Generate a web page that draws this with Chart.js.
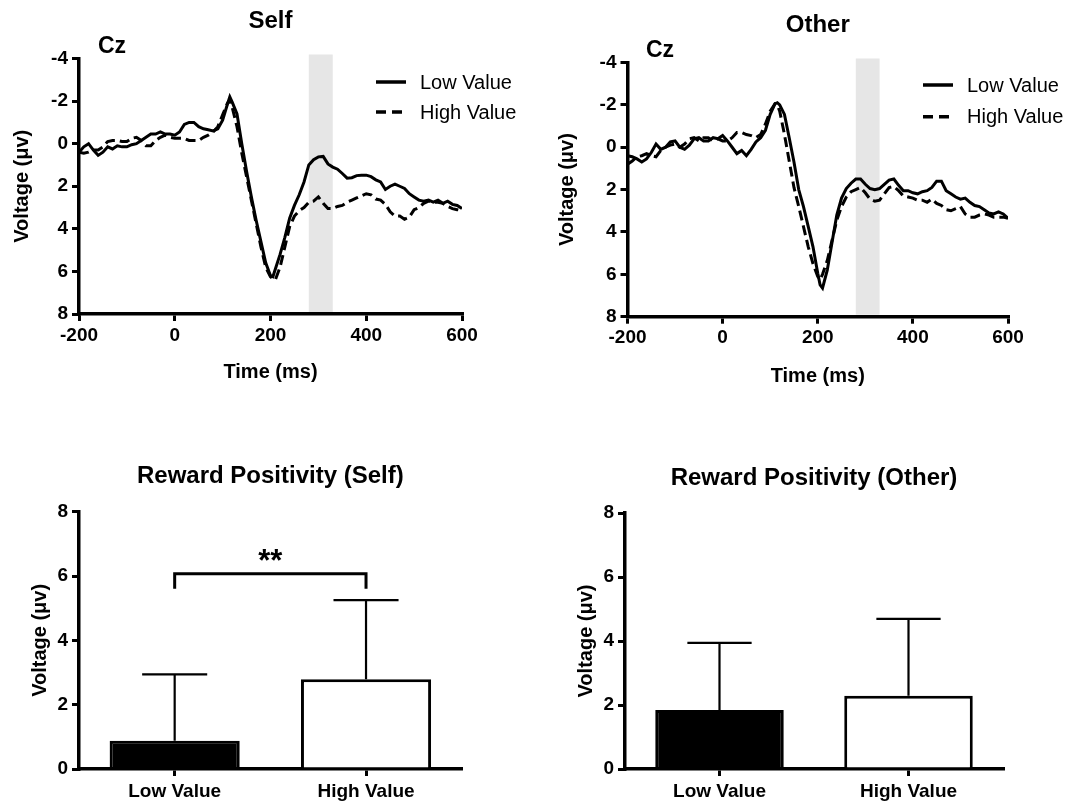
<!DOCTYPE html>
<html><head><meta charset="utf-8">
<script src="https://cdn.jsdelivr.net/npm/chart.js@4"></script>
<style>
html,body{margin:0;padding:0;background:#fff;}
#wrap{position:relative;width:1077px;height:805px;overflow:hidden;background:#fff;}
canvas{position:absolute;}
</style></head><body>
<div id="wrap">
<canvas id="c1" style="left:0;top:0;"></canvas>
<canvas id="c2" style="left:540px;top:0;"></canvas>
<canvas id="c3" style="left:0;top:400px;"></canvas>
<canvas id="c4" style="left:540px;top:400px;"></canvas>
</div>
<script>
// ---------- data ----------
const times = [-200,-190,-180,-170,-160,-150,-140,-130,-120,-110,
  -100,-90,-80,-70,-60,-50,-40,-30,-20,-10,
  0,10,20,30,40,50,60,70,80,90,
  100,110,115,120,130,140,150,160,170,180,
  190,200,205,210,220,230,240,250,260,270,
  280,290,300,310,320,330,340,350,360,370,
  380,390,400,410,420,430,440,450,460,470,
  480,490,500,510,520,530,540,550,560,570,
  580,590,600];

const selfLow = [0.4,0.15,0.0,0.3,0.55,0.4,0.15,0.25,0.1,0.15,
  0.15,0.05,0.0,-0.15,-0.3,-0.45,-0.45,-0.55,-0.45,-0.45,
  -0.4,-0.55,-0.9,-1.0,-1.0,-0.8,-0.7,-0.65,-0.6,-0.7,
  -1.1,-1.85,-2.2,-1.95,-1.4,0.0,1.3,2.5,3.6,4.6,
  5.6,6.2,6.25,5.9,5.2,4.4,3.5,2.9,2.4,1.8,
  1.0,0.75,0.62,0.6,0.95,1.1,1.2,1.4,1.62,1.6,
  1.5,1.48,1.48,1.55,1.7,1.8,2.15,2.0,1.9,2.0,
  2.1,2.35,2.5,2.65,2.7,2.65,2.75,2.65,2.8,2.7,
  2.85,2.9,3.05];

const selfHigh = [0.4,0.45,0.4,0.3,0.3,0.15,-0.1,-0.15,-0.15,-0.1,
  -0.1,-0.25,-0.3,-0.15,0.1,0.1,-0.15,-0.3,-0.4,-0.3,
  -0.25,-0.25,-0.25,-0.15,-0.15,-0.15,-0.3,-0.4,-0.55,-0.8,
  -1.35,-1.9,-2.05,-1.7,-0.8,0.45,1.55,2.65,3.75,4.85,
  5.8,6.25,6.35,6.4,5.8,4.85,3.9,3.4,3.15,3.0,
  2.75,2.7,2.5,2.8,3.05,3.05,2.95,2.9,2.75,2.65,
  2.55,2.45,2.35,2.4,2.6,2.65,2.85,3.2,3.4,3.4,
  3.55,3.45,3.1,3.0,2.8,2.7,2.75,2.75,2.8,2.95,
  3.05,3.1,3.15];

const otherLow = [0.4,0.45,0.55,0.7,0.55,0.25,-0.15,0.1,0.0,-0.25,
  -0.3,0.0,0.1,-0.1,-0.4,-0.45,-0.3,-0.3,-0.45,-0.4,
  -0.55,-0.3,0.0,0.3,0.15,0.4,0.1,-0.25,-0.45,-0.8,
  -1.55,-2.05,-2.1,-2.0,-1.55,-0.45,0.7,2.0,2.8,3.75,
  4.7,5.95,6.5,6.65,5.8,4.5,3.2,2.4,1.95,1.7,
  1.5,1.5,1.75,1.95,2.0,1.95,1.75,1.55,1.5,1.8,
  2.05,2.05,2.15,2.2,2.1,2.05,1.9,1.6,1.6,2.05,
  2.2,2.35,2.45,2.4,2.6,2.75,2.8,2.95,3.1,3.15,
  3.05,3.15,3.35];

const otherHigh = [0.8,0.65,0.45,0.4,0.3,0.4,0.45,0.15,0.0,-0.1,
  -0.15,0.0,-0.15,-0.4,-0.45,-0.3,-0.45,-0.45,-0.3,-0.4,
  -0.3,-0.3,-0.45,-0.7,-0.7,-0.6,-0.55,-0.45,-0.6,-1.1,
  -1.7,-2.05,-2.0,-1.7,-0.6,0.65,1.9,2.8,3.75,4.7,
  5.5,6.1,6.25,6.0,5.35,4.4,3.45,2.8,2.35,2.1,
  2.0,1.9,2.15,2.45,2.55,2.5,2.2,1.9,1.85,2.05,
  2.3,2.35,2.4,2.5,2.5,2.6,2.45,2.65,2.75,2.95,
  3.0,2.9,2.8,3.15,3.3,3.3,3.2,3.15,3.2,3.3,
  3.3,3.3,3.35];

const seriesLabels = ['Low Value', 'High Value'];
const timeTicks = [-200, 600, 200];      // min, max, step
const voltTicks = [-4, 8, 2];            // min, max, step (reversed axis)
const bandWindow = [280, 330];           // shaded measurement window (ms)

const barCategories = ['Low Value', 'High Value'];
const selfBarMeans = [0.88, 2.79];
const selfBarErrors = [2.06, 2.46];
const otherBarMeans = [1.84, 2.29];
const otherBarErrors = [2.10, 2.40];
const barTicks = [0, 8, 2];
const selfSigPairs = [[0, 1]];
const selfSigLabels = ['**'];
const selfSigLevels = [6.07];

// ---------- style ----------
const FONT = '"Liberation Sans", Arial, Helvetica, sans-serif';
Chart.defaults.font.family = FONT;
Chart.defaults.color = '#000';

function axisBase() {
  return {
    grid: {display: true, drawOnChartArea: false, drawTicks: true, tickLength: 7, lineWidth: 3, color: '#000'},
    border: {display: true, color: '#000', width: 3.5}
  };
}

const bandPlugin = {
  id: 'band',
  beforeDraw(chart, args, o) {
    if (!o || !o.range) return;
    const {ctx, chartArea: a} = chart;
    const x0 = chart.scales.x.getPixelForValue(o.range[0]);
    const x1 = chart.scales.x.getPixelForValue(o.range[1]);
    ctx.save();
    ctx.fillStyle = '#e6e6e6';
    ctx.fillRect(x0, a.top - o.ext, x1 - x0, a.bottom - a.top + o.ext - 2);
    ctx.restore();
  }
};

const lineLegendPlugin = {
  id: 'lineLegend',
  afterDraw(chart, args, o) {
    const {ctx, chartArea: a} = chart;
    ctx.save();
    chart.data.datasets.forEach((ds, i) => {
      const y = a.top + o.y0 + i * o.gap;
      const x0 = a.right - o.fromRight;
      ctx.strokeStyle = '#000';
      ctx.lineWidth = 3.5;
      ctx.setLineDash(ds.borderDash ? [10, 6] : []);
      ctx.beginPath(); ctx.moveTo(x0, y); ctx.lineTo(x0 + o.len, y); ctx.stroke();
      ctx.setLineDash([]);
      ctx.fillStyle = '#000';
      ctx.font = '20px ' + FONT;
      ctx.textAlign = 'left';
      ctx.textBaseline = 'middle';
      ctx.fillText(ds.label, x0 + o.len + o.textGap, y + 1);
    });
    ctx.restore();
  }
};

const cornerTextPlugin = {
  id: 'cornerText',
  afterDraw(chart, args, o) {
    if (!o || !o.text) return;
    const {ctx, chartArea: a} = chart;
    ctx.save();
    ctx.fillStyle = '#000';
    ctx.font = 'bold 23px ' + FONT;
    ctx.textAlign = 'center';
    ctx.textBaseline = 'middle';
    ctx.fillText(o.text, a.left + o.dx, a.top + o.dy);
    ctx.restore();
  }
};

const errorBarPlugin = {
  id: 'errorBars',
  afterDatasetsDraw(chart, args, o) {
    const meta = chart.getDatasetMeta(0);
    const ys = chart.scales.y, ctx = chart.ctx;
    const vals = chart.data.datasets[0].data;
    ctx.save();
    ctx.strokeStyle = '#000';
    ctx.lineWidth = 2.2;
    meta.data.forEach((bar, i) => {
      const top = ys.getPixelForValue(vals[i] + o.errors[i]);
      const half = bar.width * 0.25;
      ctx.beginPath();
      ctx.moveTo(bar.x, bar.y); ctx.lineTo(bar.x, top);
      ctx.moveTo(bar.x - half, top); ctx.lineTo(bar.x + half, top);
      ctx.stroke();
    });
    ctx.restore();
  }
};

const sigPlugin = {
  id: 'sig',
  afterDatasetsDraw(chart, args, o) {
    if (!o || !o.pairs) return;
    const meta = chart.getDatasetMeta(0);
    const ys = chart.scales.y, ctx = chart.ctx;
    ctx.save();
    ctx.strokeStyle = '#000';
    ctx.fillStyle = '#000';
    ctx.lineWidth = 3;
    o.pairs.forEach((p, k) => {
      const x0 = meta.data[p[0]].x, x1 = meta.data[p[1]].x;
      const yl = ys.getPixelForValue(o.levels[k]);
      ctx.beginPath();
      ctx.moveTo(x0, yl + 15); ctx.lineTo(x0, yl); ctx.lineTo(x1, yl); ctx.lineTo(x1, yl + 15);
      ctx.stroke();
      ctx.font = 'bold 31px ' + FONT;
      ctx.textAlign = 'center';
      ctx.textBaseline = 'alphabetic';
      ctx.fillText(o.labels[k], (x0 + x1) / 2, yl - 3);
    });
    ctx.restore();
  }
};

function sizeCanvas(id, w, h) {
  const c = document.getElementById(id);
  c.width = w; c.height = h;
  c.style.width = w + 'px'; c.style.height = h + 'px';
  return c;
}

function erpChart(id, L) {
  const c = sizeCanvas(id, L.w, L.h);
  const pts = arr => times.map((t, i) => ({x: t, y: arr[i]}));
  return new Chart(c, {
    type: 'line',
    data: {datasets: [
      {label: seriesLabels[0], data: pts(L.low), borderColor: '#000', borderWidth: 3, pointRadius: 0, tension: 0, fill: false},
      {label: seriesLabels[1], data: pts(L.high), borderColor: '#000', borderWidth: 3, borderDash: [10, 5], pointRadius: 0, tension: 0, fill: false}
    ]},
    options: {
      responsive: false, animation: false, events: [],
      layout: {padding: {left: 0, right: L.padR, top: 0, bottom: 0}},
      plugins: {
        legend: {display: false}, tooltip: {enabled: false},
        title: {display: true, text: L.title, fullSize: false, color: '#000',
          font: {size: 24, weight: 'bold'}, padding: {top: L.tPadT, bottom: L.tPadB}},
        band: {range: bandWindow, ext: 4},
        lineLegend: {fromRight: L.legR, len: 30, y0: L.legY0, gap: L.legGap, textGap: 14},
        cornerText: {text: 'Cz', dx: L.czDx, dy: L.czDy}
      },
      scales: {
        x: Object.assign(axisBase(), {
          type: 'linear', min: timeTicks[0], max: timeTicks[1],
          ticks: {stepSize: timeTicks[2], font: {size: 19, weight: 'bold'}, color: '#000', padding: 3, maxRotation: 0},
          title: {display: true, text: 'Time (ms)', color: '#000', font: {size: 20, weight: 'bold'}, padding: {top: 0, bottom: L.xtPad}},
          afterFit(s) { s.height = L.xH; }
        }),
        y: Object.assign(axisBase(), {
          type: 'linear', reverse: true, min: voltTicks[0], max: voltTicks[1],
          ticks: {stepSize: voltTicks[2], font: {size: 19, weight: 'bold'}, color: '#000', padding: 4},
          title: {display: true, text: 'Voltage (μv)', color: '#000', font: {size: 20, weight: 'bold'}, padding: {top: L.ytPad, bottom: 0}},
          afterFit(s) { s.width = L.yW; }
        })
      }
    },
    plugins: [bandPlugin, lineLegendPlugin, cornerTextPlugin]
  });
}

function barChart(id, L) {
  const c = sizeCanvas(id, L.w, L.h);
  return new Chart(c, {
    type: 'bar',
    data: {labels: barCategories, datasets: [{
      data: L.means, backgroundColor: ['#000', '#fff'], borderColor: '#000', borderWidth: 3,
      categoryPercentage: 1, barPercentage: 0.68
    }]},
    options: {
      responsive: false, animation: false, events: [],
      layout: {padding: {left: 0, right: L.padR, top: 0, bottom: 0}},
      plugins: {
        legend: {display: false}, tooltip: {enabled: false},
        title: {display: true, text: L.title, fullSize: false, color: '#000',
          font: {size: 24, weight: 'bold'}, padding: {top: L.tPadT, bottom: L.tPadB}},
        errorBars: {errors: L.errors},
        sig: L.sig || {}
      },
      scales: {
        x: Object.assign(axisBase(), {
          type: 'category', offset: true,
          grid: {display: true, drawOnChartArea: false, drawTicks: true, tickLength: 7, lineWidth: 3, color: '#000', offset: false},
          ticks: {font: {size: 19, weight: 'bold'}, color: '#000', padding: 4, maxRotation: 0},
          afterFit(s) { s.height = L.xH; }
        }),
        y: Object.assign(axisBase(), {
          type: 'linear', min: barTicks[0], max: barTicks[1],
          ticks: {stepSize: barTicks[2], font: {size: 19, weight: 'bold'}, color: '#000', padding: 4},
          title: {display: true, text: 'Voltage (μv)', color: '#000', font: {size: 20, weight: 'bold'}, padding: {top: L.ytPad, bottom: 0}},
          afterFit(s) { s.width = L.yW; }
        })
      }
    },
    plugins: [errorBarPlugin, sigPlugin]
  });
}

erpChart('c1', {w: 540, h: 400, low: selfLow, high: selfHigh, title: 'Self',
  padR: 78, yW: 79, xH: 86, tPadT: 6.6, tPadB: 23.1, ytPad: 10, xtPad: 16,
  czDx: 33, czDy: -11.5, legR: 86, legY0: 23.5, legGap: 30});
erpChart('c2', {w: 537, h: 400, low: otherLow, high: otherHigh, title: 'Other',
  padR: 69, yW: 87.5, xH: 83.3, tPadT: 11.3, tPadB: 22.4, ytPad: 15.4, xtPad: 12,
  czDx: 32.5, czDy: -11.5, legR: 85, legY0: 22.5, legGap: 31.7});
barChart('c3', {w: 540, h: 405, means: selfBarMeans, errors: selfBarErrors, title: 'Reward Positivity (Self)',
  padR: 78.3, yW: 79, xH: 36, tPadT: 62.3, tPadB: 20.6, ytPad: 28.3,
  sig: {pairs: selfSigPairs, labels: selfSigLabels, levels: selfSigLevels}});
barChart('c4', {w: 537, h: 405, means: otherBarMeans, errors: otherBarErrors, title: 'Reward Positivity (Other)',
  padR: 74, yW: 85, xH: 36, tPadT: 63.6, tPadB: 20.6, ytPad: 34});
</script>
</body></html>
